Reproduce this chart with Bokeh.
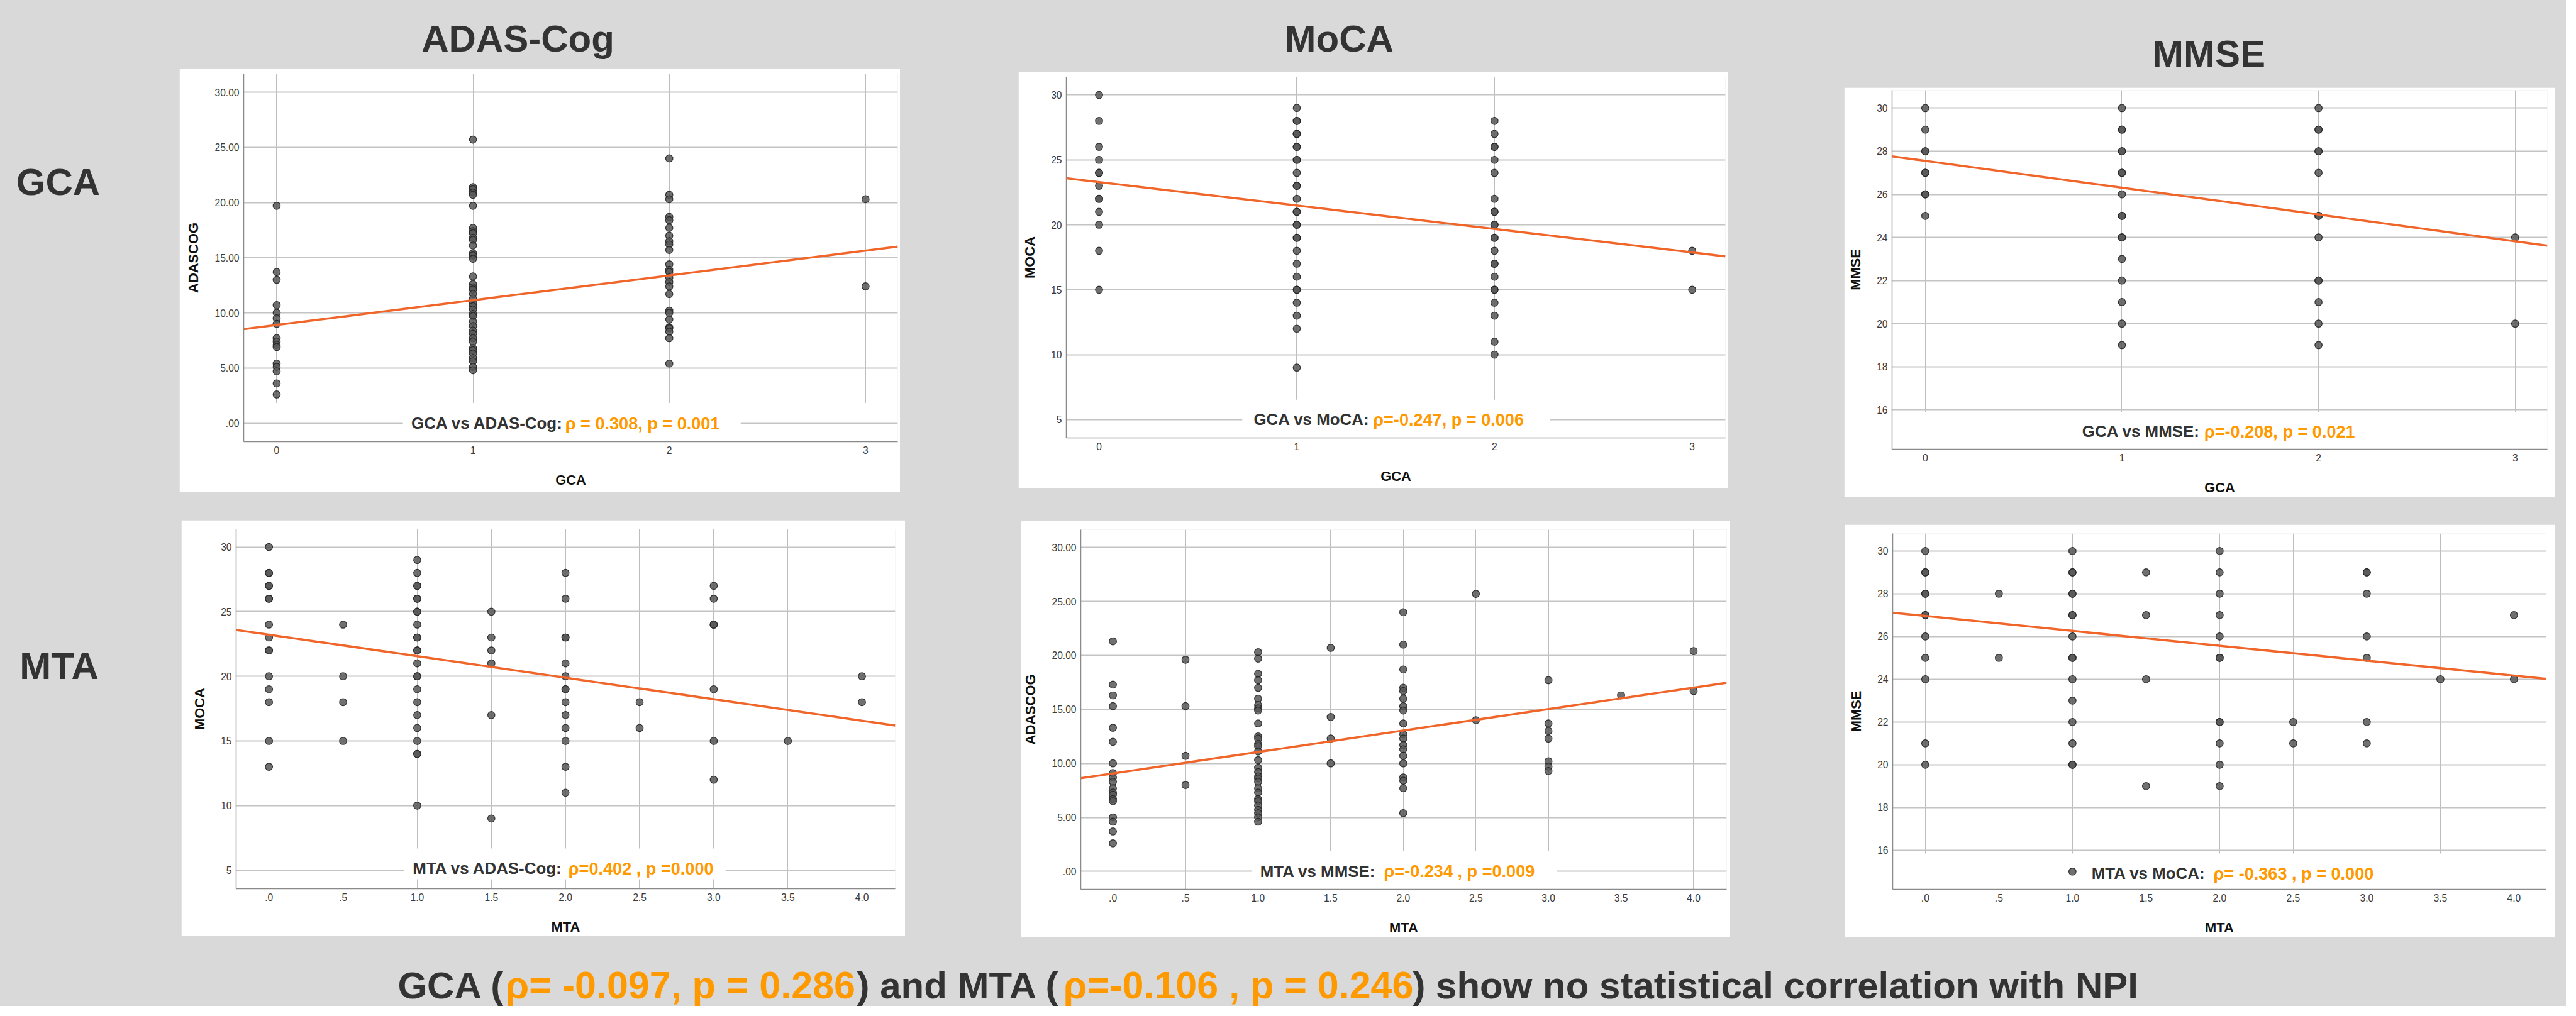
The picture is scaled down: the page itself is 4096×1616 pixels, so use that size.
from bokeh.plotting import figure
from bokeh.models import Range1d, FixedTicker, Label, BoxAnnotation, Grid, ColumnDataSource
from bokeh.layouts import row, column
from bokeh.embed import file_html
from bokeh.resources import INLINE
from bokeh.core.properties import value

# ------------------------------------------------------------------ data
# GCA (0-3) vs ADAS-Cog
gca_adas = {
    0: [19.7, 13.7, 13.0, 10.7, 10.0, 9.5, 9.0, 7.7, 7.4, 7.1, 6.9, 5.4, 5.1, 4.7, 3.6, 2.6],
    1: [25.7, 21.4, 21.2, 20.9, 20.7, 19.7, 17.7, 17.4, 17.2, 16.8, 16.6, 16.1, 15.4, 15.2,
        14.9, 13.3, 12.6, 12.3, 12.1, 11.7, 11.3, 10.9, 10.6, 10.3, 9.9, 9.7, 9.2, 8.8, 8.4,
        8.1, 7.7, 7.4, 6.8, 6.6, 6.3, 5.9, 5.6, 5.1, 4.8],
    2: [24.0, 20.7, 20.3, 18.7, 18.4, 17.7, 17.0, 16.5, 16.2, 15.7, 14.4, 13.9, 13.7, 13.2,
        12.8, 12.4, 11.7, 10.2, 10.0, 9.4, 8.7, 8.6, 8.3, 7.7, 5.4],
    3: [20.3, 12.4],
}
# GCA vs MoCA
gca_moca = {
    0: [30, 28, 26, 25, 24, 24, 23, 22, 22, 21, 20, 18, 15],
    1: [29, 28, 28, 27, 27, 26, 26, 25, 25, 24, 23, 23, 22, 21, 21, 20, 20, 19, 19, 18, 17,
        16, 15, 15, 14, 13, 12, 9],
    2: [28, 27, 26, 26, 25, 24, 22, 21, 21, 20, 20, 19, 19, 18, 17, 17, 16, 15, 15, 14, 13,
        11, 10],
    3: [18, 15],
}
# GCA vs MMSE
gca_mmse = {
    0: [30, 29, 28, 28, 27, 27, 26, 26, 25],
    1: [30, 29, 29, 28, 28, 27, 27, 26, 25, 25, 24, 24, 23, 22, 21, 20, 19],
    2: [30, 29, 29, 28, 28, 27, 25, 25, 24, 22, 22, 21, 20, 19],
    3: [24, 20],
}
# MTA (0-4) vs MoCA
mta_moca = {
    0.0: [30, 28, 28, 27, 27, 26, 26, 24, 23, 22, 22, 20, 19, 18, 15, 13],
    0.5: [24, 20, 18, 15],
    1.0: [29, 28, 27, 27, 26, 26, 25, 25, 24, 23, 23, 22, 22, 21, 20, 20, 19, 18, 17, 16, 15,
          14, 14, 10],
    1.5: [25, 23, 22, 21, 17, 9],
    2.0: [28, 26, 23, 23, 21, 20, 19, 19, 18, 17, 16, 15, 13, 11],
    2.5: [18, 16],
    3.0: [27, 26, 24, 24, 19, 15, 12],
    3.5: [15],
    4.0: [20, 18],
}
# MTA vs ADAS-Cog
mta_adas = {
    0.0: [21.3, 17.3, 16.3, 15.3, 13.3, 12.0, 10.0, 9.1, 8.7, 8.3, 7.7, 7.3, 7.1, 6.7, 6.5,
          5.0, 4.6, 3.7, 2.6],
    0.5: [19.6, 15.3, 10.7, 8.0],
    1.0: [20.3, 19.7, 18.3, 17.7, 17.0, 16.0, 15.4, 15.1, 14.9, 13.7, 12.5, 12.3, 11.8, 11.6,
          11.1, 10.3, 9.6, 9.2, 8.8, 8.6, 8.3, 7.7, 7.3, 6.7, 6.5, 6.1, 5.7, 5.4, 5.0, 4.6],
    1.5: [20.7, 14.3, 12.3, 10.0],
    2.0: [24.0, 21.0, 18.7, 17.0, 16.7, 16.0, 15.3, 14.9, 13.7, 12.7, 12.3, 11.7, 11.3, 10.7,
          10.0, 8.7, 8.4, 7.7, 5.4],
    2.5: [25.7, 14.0],
    3.0: [17.7, 13.7, 13.0, 12.3, 10.2, 9.7, 9.3],
    3.5: [16.3],
    4.0: [20.4, 16.7],
}
# MTA vs MMSE
mta_mmse = {
    0.0: [30, 29, 29, 28, 28, 27, 27, 26, 25, 24, 21, 20],
    0.5: [28, 25],
    1.0: [30, 29, 29, 28, 28, 27, 27, 26, 25, 25, 24, 23, 22, 21, 20, 20, 15],
    1.5: [29, 27, 24, 19],
    2.0: [30, 29, 28, 27, 26, 25, 25, 22, 22, 21, 20, 19],
    2.5: [22, 21],
    3.0: [29, 29, 28, 26, 25, 22, 21],
    3.5: [24],
    4.0: [27, 24],
}

# regression lines (intercept, slope)
fit_gca_adas = (8.90, 2.245)
fit_gca_moca = (23.29, -1.806)
fit_gca_mmse = (27.55, -1.243)
fit_mta_moca = (23.22, -1.664)
fit_mta_adas = (9.07, 1.986)
fit_mta_mmse = (26.96, -0.698)

# ticks
gca_ticks = [0, 1, 2, 3]
gca_tick_labels = ["0", "1", "2", "3"]
mta_ticks = [0.0, 0.5, 1.0, 1.5, 2.0, 2.5, 3.0, 3.5, 4.0]
mta_tick_labels = [".0", ".5", "1.0", "1.5", "2.0", "2.5", "3.0", "3.5", "4.0"]
adas_ticks = [0, 5, 10, 15, 20, 25, 30]
adas_tick_labels = [".00", "5.00", "10.00", "15.00", "20.00", "25.00", "30.00"]
moca_ticks = [5, 10, 15, 20, 25, 30]
moca_tick_labels = ["5", "10", "15", "20", "25", "30"]
mmse_ticks = [16, 18, 20, 22, 24, 26, 28, 30]
mmse_tick_labels = ["16", "18", "20", "22", "24", "26", "28", "30"]

col_titles = ["ADAS-Cog", "MoCA", "MMSE"]
row_titles = ["GCA", "MTA"]

ann_black = ["GCA vs ADAS-Cog:", "GCA vs MoCA:", "GCA vs MMSE:",
             "MTA vs ADAS-Cog:", "MTA vs MMSE:", "MTA vs MoCA:"]
ann_orange = ["\u03c1 = 0.308, p = 0.001", "\u03c1=-0.247, p = 0.006", "\u03c1=-0.208, p = 0.021",
              "\u03c1=0.402 , p =0.000", "\u03c1=-0.234 , p =0.009", "\u03c1= -0.363 , p = 0.000"]

bottom_segments = ["GCA (", "\u03c1= -0.097, p = 0.286", ") and MTA (",
                   "\u03c1=-0.106 , p = 0.246", ") show no statistical correlation with NPI"]
bottom_is_orange = [False, True, False, True, False]

# ------------------------------------------------------------------ layout / style
W, H = 4080, 1600
REF_W, REF_H = 5488.0, 2165.0
SX, SY = W / REF_W, H / REF_H
FS = (SX + SY) / 2


def X(v):
    return int(round(v * SX))


def Y(v):
    return int(round(v * SY))


def fpx(v):
    return f"{v * FS:.1f}px"


BG = "#d9d9d9"
DARK = "#333333"
ORANGE = "#ff9900"
FIT = "#f0652a"
FONT = "Liberation Sans"

HEADER_B = 147.0
BAND1_B = 1069.6
BAND2_B = 2016.7

panels = [
    dict(card=(384, 147, 1925, 1058), frame=(520.5, 158, 1919, 949.5),
         xr=(-0.168, 3.164), yr=(-1.68, 31.66), data=gca_adas, fit=fit_gca_adas,
         xt=(gca_ticks, gca_tick_labels), yt=(adas_ticks, adas_tick_labels),
         xl="GCA", yl="ADASCOG", ann=(0, 0.686, 1.470, 0.0),
         mask=("x0", "x1", "y0", 1.82), lbox=(0.643, 2.364, "y0", 1.82)),
    dict(card=(2178, 154.7, 3697, 1050.6), frame=(2280, 162.3, 3689, 947.9),
         xr=(-0.1656, 3.168), yr=(3.586, 31.38), data=gca_moca, fit=fit_gca_moca,
         xt=(gca_ticks, gca_tick_labels), yt=(moca_ticks, moca_tick_labels),
         xl="GCA", yl="MOCA", ann=(1, 0.782, 1.386, 5.0),
         mask=None, lbox=(0.724, 2.281, "y0", 6.53)),
    dict(card=(3943.5, 187.8, 5465, 1069.6), frame=(4046.5, 193.2, 5447.4, 973.9),
         xr=(-0.169, 3.164), yr=(14.17, 30.83), data=gca_mmse, fit=fit_gca_mmse,
         xt=(gca_ticks, gca_tick_labels), yt=(mmse_ticks, mmse_tick_labels),
         xl="GCA", yl="MMSE", ann=(2, 0.798, 1.419, 15.0),
         mask=("x0", "x1", "y0", 15.9), lbox=None),
    dict(card=(388, 1119.7, 1936, 2015), frame=(504.7, 1138.3, 1914.3, 1923.2),
         xr=(-0.2214, 4.2245), yr=(3.57, 31.39), data=mta_moca, fit=fit_mta_moca,
         xt=(mta_ticks, mta_tick_labels), yt=(moca_ticks, moca_tick_labels),
         xl="MTA", yl="MOCA", ann=(3, 0.970, 2.020, 5.15),
         mask=None, lbox=(0.913, 3.08, 4.30, 6.68)),
    dict(card=(2183, 1121, 3700, 2016), frame=(2309.5, 1135.4, 3692.2, 1919.1),
         xr=(-0.2214, 4.2275), yr=(-1.66, 31.64), data=mta_adas, fit=fit_mta_adas,
         xt=(mta_ticks, mta_tick_labels), yt=(adas_ticks, adas_tick_labels),
         xl="MTA", yl="ADASCOG", ann=(4, 1.014, 1.867, 0.0),
         mask=None, lbox=(0.957, 3.058, "y0", 1.89)),
    dict(card=(3945, 1128.7, 5465, 2016.7), frame=(4048, 1146.1, 5444.4, 1923.9),
         xr=(-0.2216, 4.2185), yr=(14.17, 30.82), data=mta_mmse, fit=fit_mta_mmse,
         xt=(mta_ticks, mta_tick_labels), yt=(mmse_ticks, mmse_tick_labels),
         xl="MTA", yl="MMSE", ann=(5, 1.130, 1.958, 14.92),
         mask=("x0", "x1", "y0", 15.85), lbox=None),
]


def resolve(box, xr, yr):
    m = {"x0": xr[0], "x1": xr[1], "y0": yr[0], "y1": yr[1]}
    return [m[v] if isinstance(v, str) else v for v in box]


def make_panel(spec, band_top, prev_right):
    L, T, R, B = spec["card"]
    fl, ft, fr, fb = spec["frame"]
    xr, yr = spec["xr"], spec["yr"]
    p = figure(width=X(R) - X(L), height=Y(B) - Y(T),
               x_range=Range1d(*xr), y_range=Range1d(*yr),
               toolbar_location=None, output_backend="svg",
               min_border_left=X(fl) - X(L), min_border_right=X(R) - X(fr),
               min_border_top=Y(ft) - Y(T), min_border_bottom=Y(B) - Y(fb))
    p.margin = (Y(T) - Y(band_top), 0, 0, X(L) - prev_right)
    p.background_fill_color = "white"
    p.border_fill_color = "white"
    p.outline_line_color = None

    xt, xtl = spec["xt"]
    yt, ytl = spec["yt"]
    p.xaxis.ticker = FixedTicker(ticks=xt)
    p.yaxis.ticker = FixedTicker(ticks=yt)
    p.xaxis.major_label_overrides = dict(zip(xt, xtl))
    p.yaxis.major_label_overrides = dict(zip(yt, ytl))
    for ax in (p.xaxis, p.yaxis):
        ax.axis_line_color = "#8a8a8a"
        ax.axis_line_width = 1.5
        ax.major_tick_line_color = None
        ax.minor_tick_line_color = None
        ax.major_tick_out = 0
        ax.major_tick_in = 0
        ax.minor_tick_out = 0
        ax.minor_tick_in = 0
        ax.major_label_text_font = FONT
        ax.major_label_text_font_size = fpx(21)
        ax.major_label_text_color = "#3a3a3a"
        ax.major_label_standoff = 7
        ax.axis_label_text_font = FONT
        ax.axis_label_text_font_style = "bold"
        ax.axis_label_text_font_size = fpx(29.5)
        ax.axis_label_text_color = "#111111"
    p.xaxis.axis_label = spec["xl"]
    p.yaxis.axis_label = spec["yl"]
    p.xaxis.axis_label_standoff = 26
    p.yaxis.axis_label_standoff = 18

    p.xgrid.grid_line_color = "#bdbdbd"
    p.xgrid.grid_line_width = 1
    p.ygrid.visible = False

    if spec["mask"] is not None:
        x0, x1, y0, y1 = resolve(spec["mask"], xr, yr)
        p.add_layout(BoxAnnotation(left=x0, right=x1, bottom=y0, top=y1, fill_color="white",
                                   fill_alpha=1.0, line_color=None, level="underlay"), "center")
    hg = Grid(dimension=1, ticker=p.yaxis[0].ticker, grid_line_color="#c4c4c4", grid_line_width=2)
    p.add_layout(hg, "center")
    if spec["lbox"] is not None:
        x0, x1, y0, y1 = resolve(spec["lbox"], xr, yr)
        p.add_layout(BoxAnnotation(left=x0, right=x1, bottom=y0, top=y1, fill_color="white",
                                   fill_alpha=1.0, line_color=None, level="underlay"), "center")

    xs, ys = [], []
    for k, vals in spec["data"].items():
        for v in vals:
            xs.append(k)
            ys.append(v)
    src = ColumnDataSource(dict(x=xs, y=ys))
    p.scatter("x", "y", source=src, size=11.5, marker="circle", fill_color="#575757",
              fill_alpha=0.85, line_color="#222222", line_alpha=0.9, line_width=1.2)

    b0, b1 = spec["fit"]
    p.line(x=[xr[0], xr[1]], y=[b0 + b1 * xr[0], b0 + b1 * xr[1]], line_color=FIT,
           line_width=3.5)

    i, xb, xo, ya = spec["ann"]
    p.add_layout(Label(x=xb, y=ya, text=ann_black[i], text_font=FONT, text_font_style="bold",
                       text_font_size=fpx(35), text_color=DARK, text_baseline="middle",
                       text_align="left"))
    p.add_layout(Label(x=xo, y=ya, text=ann_orange[i], text_font=FONT, text_font_style="bold",
                       text_font_size=fpx(36.5), text_color=ORANGE, text_baseline="middle",
                       text_align="left"))
    return p


def canvas(x0, x1, y0, y1, ml=0, mt=0):
    p = figure(width=X(x1) - X(x0), height=Y(y1) - Y(y0),
               x_range=Range1d(x0, x1), y_range=Range1d(y1, y0),
               toolbar_location=None, output_backend="svg", min_border=0)
    p.margin = (mt, 0, 0, ml)
    p.axis.visible = False
    p.grid.visible = False
    p.outline_line_color = None
    p.background_fill_color = BG
    p.border_fill_color = BG
    return p


def title_text(p, xs, ys, texts):
    p.text(x=xs, y=ys, text=texts, text_font=value(FONT), text_font_style="bold",
           text_font_size=value(fpx(81)), text_color=DARK, text_align="center",
           text_baseline="middle")


P3_L = panels[2]["card"][0]
P3_T = panels[2]["card"][1]

# header over the first two columns, and a taller one over the third (MMSE sits lower)
header_left = canvas(0, P3_L, 0, HEADER_B)
title_text(header_left, [1107, 2863], [82.5, 82.75], col_titles[:2])
header_right = canvas(P3_L, REF_W, 0, P3_T)
title_text(header_right, [4678], [114.2], col_titles[2:])

# row labels
lab1 = canvas(0, panels[0]["card"][0], HEADER_B, BAND1_B)
title_text(lab1, [124], [415], row_titles[:1])
lab2 = canvas(0, panels[3]["card"][0], BAND1_B, BAND2_B)
title_text(lab2, [126], [1465], row_titles[1:])

row1_children = [lab1]
prev = X(panels[0]["card"][0])
for spec in panels[:2]:
    row1_children.append(make_panel(spec, HEADER_B, prev))
    prev = X(spec["card"][2])
p3 = make_panel(panels[2], P3_T, X(P3_L))

row2_children = [lab2]
prev = X(panels[3]["card"][0])
for spec in panels[3:]:
    row2_children.append(make_panel(spec, BAND1_B, prev))
    prev = X(spec["card"][2])

# bottom conclusion line (black parts, then orange statistics)
bottom = canvas(0, REF_W, BAND2_B, REF_H)
bx = [850, 1080, 1832, 2273.7, 3021]
blk = [i for i, o in enumerate(bottom_is_orange) if not o]
org = [i for i, o in enumerate(bottom_is_orange) if o]
bottom.text(x=[bx[i] for i in blk], y=[2120.5] * len(blk), text=[bottom_segments[i] for i in blk],
            text_font=value(FONT), text_font_style="bold", text_font_size=value(fpx(81)),
            text_color=DARK, text_align="left", text_baseline="middle")
bottom.text(x=[bx[i] for i in org], y=[2120.5] * len(org), text=[bottom_segments[i] for i in org],
            text_font=value(FONT), text_font_style="bold", text_font_size=value(fpx(82.3)),
            text_color=ORANGE, text_align="left", text_baseline="middle")

r1 = row(*row1_children)
left_block = column(header_left, r1)
right_block = column(header_right, p3)
top_block = row(left_block, right_block)
r2 = row(*row2_children)
for m in (r1, left_block, right_block, top_block, r2):
    m.styles = {"background-color": BG}
layout = column(top_block, r2, bottom)
layout.styles = {"background-color": BG}

open("out.html", "w").write(file_html(layout, INLINE))
